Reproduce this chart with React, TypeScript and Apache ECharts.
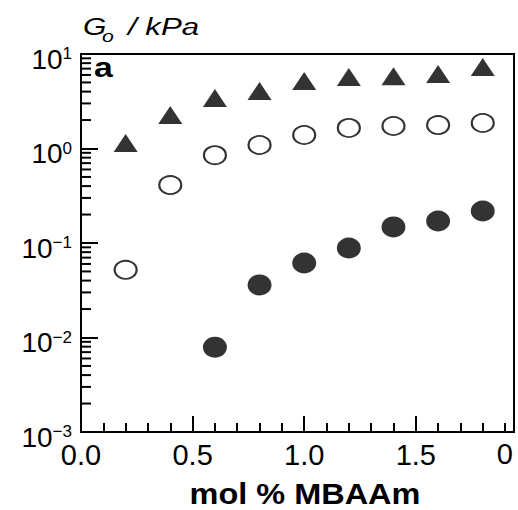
import React, { useEffect, useRef } from 'react';
import * as echarts from 'echarts';

// ---- data ----
const xPositions = [0.2, 0.4, 0.6, 0.8, 1.0, 1.2, 1.4, 1.6, 1.8];
const triangleValues = [1.14, 2.26, 3.42, 4.06, 5.17, 5.7, 5.8, 6.14, 7.28];
const openCircleValues = [0.052, 0.41, 0.85, 1.09, 1.39, 1.65, 1.73, 1.77, 1.86];
const filledCircleX = [0.6, 0.8, 1.0, 1.2, 1.4, 1.6, 1.8];
const filledCircleValues = [0.0079, 0.036, 0.0614, 0.0885, 0.148, 0.171, 0.218];

// ---- axes ----
const xMin = 0;
const xMax = 1.94;
const xMajor = 0.5;
const xMinor = 0.1;
const yMin = 0.001;
const yMax = 10;
const minorDecades = [-3, -2, -1, 0];
const minorMultipliers = [2, 3, 4, 5, 6, 7, 8, 9];
const rightEdgeLabel = '0';
const yTitle = ['G', 'o', '/ kPa'];
const xTitle = 'mol % MBAAm';
const panelLabel = 'a';

const FONT = '"Liberation Sans", Arial, Helvetica, sans-serif';

export default function App() {
  const ref = useRef<HTMLDivElement>(null);

  useEffect(() => {
    if (!ref.current) return;
    const chart = echarts.init(ref.current, undefined, { renderer: 'svg' });

    const minorTickData: number[][] = [];
    minorDecades.forEach((d) => {
      minorMultipliers.forEach((m) => {
        minorTickData.push([0, m * Math.pow(10, d)]);
      });
    });

    const pair = (xs: number[], ys: number[]) => xs.map((x, i) => [x, ys[i]]);

    chart.setOption({
      animation: false,
      backgroundColor: '#fff',
      grid: {
        left: 81,
        right: 4,
        top: 54,
        bottom: 78,
        show: true,
        borderColor: '#000',
        borderWidth: 2,
        backgroundColor: 'transparent',
      },
      xAxis: [
        {
          type: 'value',
          min: xMin,
          max: xMax,
          interval: xMajor,
          axisLine: { show: true, lineStyle: { color: '#000', width: 2 } },
          axisTick: { show: true, inside: true, length: 16, lineStyle: { color: '#000', width: 2 } },
          splitLine: { show: false },
          axisLabel: {
            color: '#000',
            fontSize: 29,
            fontFamily: FONT,
            margin: 8,
            formatter: (v: number) =>
              Math.abs(v / xMajor - Math.round(v / xMajor)) < 1e-6 ? v.toFixed(1) : '',
          },
        },
        {
          type: 'value',
          min: xMin,
          max: xMax,
          interval: xMinor,
          position: 'bottom',
          axisLine: { show: false },
          axisTick: { show: true, inside: true, length: 9, lineStyle: { color: '#000', width: 2 } },
          splitLine: { show: false },
          axisLabel: { show: false },
        },
      ],
      yAxis: {
        type: 'log',
        logBase: 10,
        min: yMin,
        max: yMax,
        axisLine: { show: true, lineStyle: { color: '#000', width: 2 } },
        axisTick: { show: true, inside: true, length: 17, lineStyle: { color: '#000', width: 2 } },
        splitLine: { show: false },
        axisLabel: {
          color: '#000',
          fontSize: 28,
          fontFamily: FONT,
          margin: 9,
          lineHeight: 28,
          padding: [10, 0, 0, 0],
          formatter: (v: number) => {
            const e = Math.round(Math.log10(v));
            return '10{s|' + (e < 0 ? '\u2212' + -e : String(e)) + '}';
          },
          rich: {
            s: {
              fontSize: 17,
              lineHeight: 17,
              verticalAlign: 'top',
              color: '#000',
              fontFamily: FONT,
            },
          },
        },
      },
      series: [
        {
          type: 'custom',
          name: 'minorY',
          silent: true,
          xAxisIndex: 0,
          data: minorTickData,
          renderItem: (_p: any, api: any) => {
            const pt = api.coord([api.value(0), api.value(1)]);
            return {
              type: 'line',
              shape: { x1: pt[0], y1: pt[1], x2: pt[0] + 10, y2: pt[1] },
              style: { stroke: '#000', lineWidth: 2 },
            };
          },
          z: 5,
        },
        {
          type: 'scatter',
          name: 'triangles',
          xAxisIndex: 0,
          symbol: 'triangle',
          symbolSize: [24, 18],
          itemStyle: { color: '#000' },
          data: pair(xPositions, triangleValues),
        },
        {
          type: 'scatter',
          name: 'open circles',
          xAxisIndex: 0,
          symbol: 'circle',
          symbolSize: [22, 18],
          itemStyle: { color: '#fff', borderColor: '#000', borderWidth: 2 },
          data: pair(xPositions, openCircleValues),
        },
        {
          type: 'scatter',
          name: 'filled circles',
          xAxisIndex: 0,
          symbol: 'circle',
          symbolSize: [24, 21],
          itemStyle: { color: '#000' },
          data: pair(filledCircleX, filledCircleValues),
        },
      ],
      graphic: [
        {
          type: 'text',
          x: 83,
          y: 26.5,
          scaleX: 1.25,
          style: {
            text: yTitle[0],
            font: 'italic 24px ' + FONT,
            fill: '#000',
            align: 'left',
            verticalAlign: 'middle',
          },
        },
        {
          type: 'text',
          x: 102,
          y: 36,
          scaleX: 1.25,
          style: {
            text: yTitle[1],
            font: 'italic 17px ' + FONT,
            fill: '#000',
            align: 'left',
            verticalAlign: 'middle',
          },
        },
        {
          type: 'text',
          x: 128,
          y: 26.5,
          scaleX: 1.3,
          style: {
            text: yTitle[2],
            font: 'italic 24px ' + FONT,
            fill: '#000',
            align: 'left',
            verticalAlign: 'middle',
          },
        },
        {
          type: 'text',
          x: 94,
          y: 67.5,
          scaleX: 1.25,
          style: {
            text: panelLabel,
            font: 'bold 27px ' + FONT,
            fill: '#000',
            align: 'left',
            verticalAlign: 'middle',
          },
        },
        {
          type: 'text',
          x: 305,
          y: 494,
          scaleX: 1.12,
          style: {
            text: xTitle,
            font: 'bold 29px ' + FONT,
            lineHeight: 29,
            fill: '#000',
            align: 'center',
            verticalAlign: 'middle',
          },
        },
        {
          type: 'text',
          x: 513,
          y: 454,
          style: {
            text: rightEdgeLabel,
            font: '29px ' + FONT,
            fill: '#000',
            align: 'right',
            verticalAlign: 'middle',
          },
        },
      ],
    });

    return () => chart.dispose();
  }, []);

  return (
    <div
      ref={ref}
      style={{ position: 'fixed', left: 0, top: 0, width: 518, height: 510, background: '#fff' }}
    />
  );
}
